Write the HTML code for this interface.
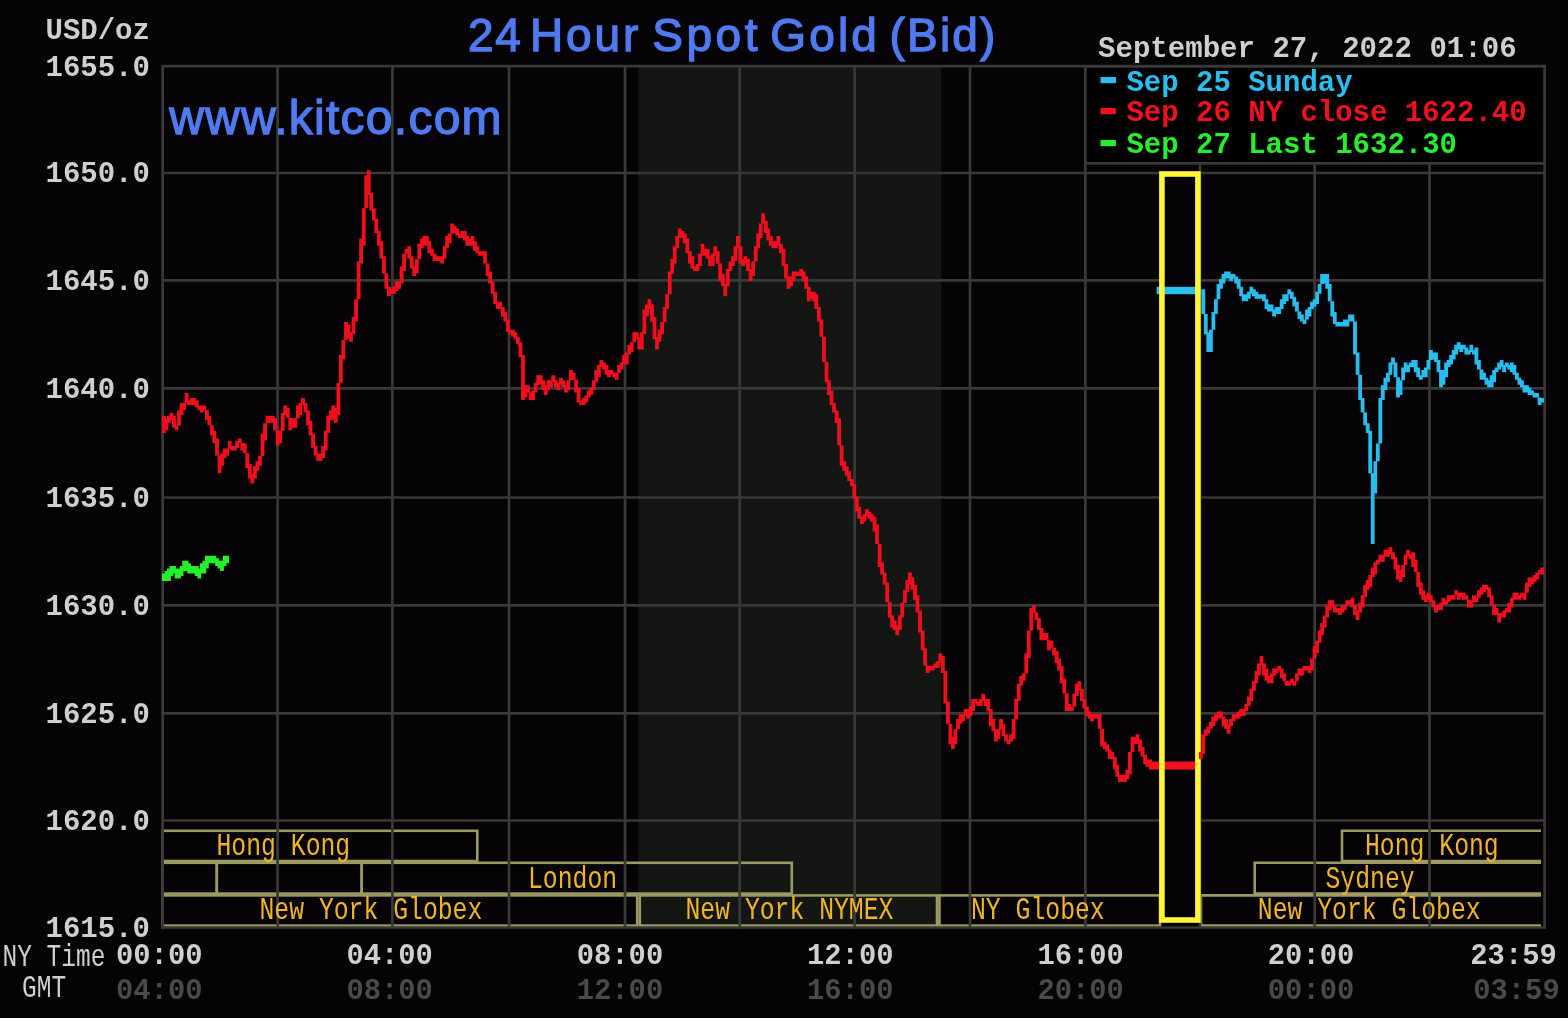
<!DOCTYPE html>
<html><head><meta charset="utf-8"><title>24 Hour Spot Gold (Bid)</title>
<style>html,body{margin:0;padding:0;background:#050305;}svg{display:block}</style></head>
<body>
<svg width="1568" height="1018" viewBox="0 0 1568 1018">
<rect width="1568" height="1018" fill="#050305"/>
<rect x="638.3" y="66.4" width="303.0" height="861.1" fill="#141614"/>
<rect x="162.6" y="830.8" width="314.70000000000005" height="30.200000000000045" fill="none" stroke="#9c9a62" stroke-width="2.6"/>
<path d="M1541 830.8 H1342 V861.0 H1541" fill="none" stroke="#9c9a62" stroke-width="2.6"/>
<rect x="162.6" y="862.8" width="54.20000000000002" height="30.800000000000068" fill="none" stroke="#9c9a62" stroke-width="2.6"/>
<rect x="216.8" y="862.8" width="144.89999999999998" height="30.800000000000068" fill="none" stroke="#9c9a62" stroke-width="2.6"/>
<rect x="361.7" y="862.8" width="430.09999999999997" height="30.800000000000068" fill="none" stroke="#9c9a62" stroke-width="2.6"/>
<path d="M1541 862.8 H1254.7 V893.6 H1541" fill="none" stroke="#9c9a62" stroke-width="2.6"/>
<rect x="162.6" y="895.4" width="474.6" height="30.200000000000045" fill="none" stroke="#9c9a62" stroke-width="2.6"/>
<rect x="639.8" y="895.4" width="297.20000000000005" height="30.200000000000045" fill="none" stroke="#9c9a62" stroke-width="2.6"/>
<rect x="939.4" y="895.4" width="220.60000000000002" height="30.200000000000045" fill="none" stroke="#9c9a62" stroke-width="2.6"/>
<path d="M1541 895.4 H1201 V925.6 H1541" fill="none" stroke="#9c9a62" stroke-width="2.6"/>
<line x1="162.6" y1="66.4" x2="162.6" y2="928.7" stroke="#393938" stroke-width="2.7"/>
<line x1="277.6" y1="66.4" x2="277.6" y2="928.7" stroke="#393938" stroke-width="2.7"/>
<line x1="392.4" y1="66.4" x2="392.4" y2="928.7" stroke="#393938" stroke-width="2.7"/>
<line x1="509.0" y1="66.4" x2="509.0" y2="928.7" stroke="#393938" stroke-width="2.7"/>
<line x1="625.0" y1="66.4" x2="625.0" y2="928.7" stroke="#393938" stroke-width="2.7"/>
<line x1="739.7" y1="66.4" x2="739.7" y2="928.7" stroke="#393938" stroke-width="2.7"/>
<line x1="854.6" y1="66.4" x2="854.6" y2="928.7" stroke="#393938" stroke-width="2.7"/>
<line x1="970.0" y1="66.4" x2="970.0" y2="928.7" stroke="#393938" stroke-width="2.7"/>
<line x1="1085.4" y1="66.4" x2="1085.4" y2="928.7" stroke="#393938" stroke-width="2.7"/>
<line x1="1200.0" y1="66.4" x2="1200.0" y2="928.7" stroke="#393938" stroke-width="2.7"/>
<line x1="1314.7" y1="66.4" x2="1314.7" y2="928.7" stroke="#393938" stroke-width="2.7"/>
<line x1="1429.5" y1="66.4" x2="1429.5" y2="928.7" stroke="#393938" stroke-width="2.7"/>
<line x1="1544.6" y1="66.4" x2="1544.6" y2="928.7" stroke="#393938" stroke-width="2.7"/>
<line x1="161.4" y1="66.2" x2="1545.8" y2="66.2" stroke="#393938" stroke-width="2.7"/>
<line x1="161.4" y1="173.0" x2="1545.8" y2="173.0" stroke="#393938" stroke-width="2.7"/>
<line x1="161.4" y1="280.3" x2="1545.8" y2="280.3" stroke="#393938" stroke-width="2.7"/>
<line x1="161.4" y1="388.3" x2="1545.8" y2="388.3" stroke="#393938" stroke-width="2.7"/>
<line x1="161.4" y1="497.5" x2="1545.8" y2="497.5" stroke="#393938" stroke-width="2.7"/>
<line x1="161.4" y1="605.4" x2="1545.8" y2="605.4" stroke="#393938" stroke-width="2.7"/>
<line x1="161.4" y1="713.3" x2="1545.8" y2="713.3" stroke="#393938" stroke-width="2.7"/>
<line x1="161.4" y1="820.5" x2="1545.8" y2="820.5" stroke="#393938" stroke-width="2.7"/>
<line x1="161.4" y1="927.5" x2="1545.8" y2="927.5" stroke="#393938" stroke-width="2.7"/>
<rect x="1085.4" y="66.4" width="459.1999999999998" height="96.9" fill="#000" stroke="#393938" stroke-width="2.7"/>
<rect x="1161.9" y="174" width="36" height="746" fill="#050305"/>
<rect x="1149" y="761.6" width="52" height="8" fill="#f2101f"/>
<rect x="1156.6" y="286.8" width="44" height="7.4" fill="#28beef"/>
<rect x="1161.9" y="174" width="36" height="746" fill="none" stroke="#fdf735" stroke-width="5.6"/>
<filter id="bl" x="-2%" y="-2%" width="104%" height="104%"><feGaussianBlur stdDeviation="0.55"/></filter>
<g filter="url(#bl)" fill="none" stroke-width="3.8">
<path d="M163.9 415.7V432.9M166.4 418.2V430.3M168.9 415.7V422.7M171.5 413.1V420.2M174.0 415.7V427.8M176.5 425.8V430.3M179.0 410.6V425.8M181.6 403.0V415.1M184.1 403.0V410.1M186.6 392.9V403.0M189.2 400.5V405.0M191.7 398.0V405.0M194.2 398.0V405.0M196.7 400.5V407.6M199.3 405.5V410.1M201.8 405.5V412.6M204.3 405.5V410.1M206.9 410.1V420.2M209.4 415.7V425.3M211.9 425.3V435.4M214.4 430.8V443.0M217.0 438.4V455.6M219.5 455.6V473.3M222.0 453.6V465.7M224.6 448.5V458.1M227.1 448.5V455.6M229.6 440.9V448.5M232.1 446.0V450.6M234.7 446.0V450.6M237.2 440.9V448.0M239.7 438.4V443.0M242.3 443.0V450.6M244.8 443.5V453.1M247.3 453.1V468.3M249.9 463.7V478.4M252.4 473.8V483.4M254.9 466.2V478.4M257.4 461.2V470.8M260.0 456.1V465.7M262.5 433.4V456.1M265.0 423.2V440.4M267.6 415.7V423.2M270.1 415.7V422.7M272.6 415.7V422.7M275.1 418.2V430.3M277.7 430.3V445.5M280.2 430.8V443.0M282.7 413.1V430.8M285.3 405.5V415.1M287.8 408.1V417.7M290.3 417.7V430.3M292.8 418.2V427.8M295.4 418.2V427.8M297.9 405.5V418.2M300.4 403.0V415.1M303.0 398.0V405.0M305.5 403.0V412.6M308.0 410.6V425.3M310.5 420.7V435.4M313.1 433.4V448.0M315.6 446.0V455.6M318.1 453.6V460.7M320.7 453.6V460.7M323.2 446.0V458.1M325.7 430.8V450.6M328.2 415.7V432.9M330.8 410.6V420.2M333.3 405.5V420.2M335.8 408.1V422.7M338.4 382.8V415.1M340.9 355.0V382.8M343.4 339.8V359.5M346.0 322.1V339.8M348.5 324.6V339.3M351.0 332.2V341.8M353.5 317.0V334.2M356.1 299.3V321.6M358.6 261.4V299.3M361.1 238.6V263.4M363.7 208.3V245.7M366.2 175.4V208.3M368.7 170.3V195.1M371.2 193.1V210.3M373.8 208.3V220.4M376.3 218.4V233.1M378.8 231.0V245.7M381.4 241.2V258.4M383.9 256.3V273.5M386.4 273.5V288.7M388.9 286.7V296.3M391.5 289.2V293.8M394.0 286.7V293.8M396.5 281.6V291.2M399.1 281.6V288.7M401.6 266.4V283.6M404.1 253.8V271.0M406.6 248.7V253.8M409.2 246.2V258.4M411.7 256.3V268.5M414.2 266.4V276.1M416.8 258.9V273.5M419.3 243.7V258.9M421.8 238.6V248.2M424.4 236.1V245.7M426.9 236.1V245.7M429.4 241.2V253.3M431.9 248.7V255.8M434.5 253.8V260.9M437.0 256.3V260.9M439.5 256.3V260.9M442.1 256.3V263.4M444.6 246.2V258.4M447.1 236.1V248.2M449.6 233.6V243.2M452.2 223.5V233.6M454.7 226.0V233.1M457.2 228.5V235.6M459.8 233.6V238.1M462.3 231.0V238.1M464.8 231.0V240.6M467.3 236.1V245.7M469.9 238.6V245.7M472.4 236.1V245.7M474.9 241.2V250.8M477.5 246.2V253.3M480.0 251.3V255.8M482.5 251.3V255.8M485.0 251.3V263.4M487.6 263.4V276.1M490.1 271.5V283.6M492.6 281.6V293.8M495.2 291.7V303.9M497.7 301.8V308.9M500.2 301.8V308.9M502.8 306.9V316.5M505.3 312.0V321.6M507.8 319.6V331.7M510.3 329.7V334.2M512.9 329.7V336.8M515.4 332.2V339.3M517.9 337.3V344.3M520.5 342.3V357.0M523.0 355.0V400.0M525.5 385.3V397.4M528.0 385.3V392.4M530.6 392.4V400.0M533.1 390.4V400.0M535.6 382.8V392.4M538.2 375.2V384.8M540.7 375.2V384.8M543.2 380.2V389.9M545.7 385.3V394.9M548.3 380.2V389.9M550.8 380.2V387.3M553.3 375.2V382.3M555.9 380.2V387.3M558.4 382.8V389.9M560.9 377.7V384.8M563.4 380.2V387.3M566.0 385.3V392.4M568.5 380.2V389.9M571.0 370.1V380.2M573.6 372.7V379.7M576.1 379.7V392.4M578.6 387.8V402.5M581.1 400.5V405.0M583.7 398.0V405.0M586.2 395.4V402.5M588.7 390.4V397.4M591.3 387.8V394.9M593.8 380.2V389.9M596.3 370.1V382.3M598.9 365.1V377.2M601.4 360.0V367.1M603.9 362.5V369.6M606.4 365.1V374.7M609.0 370.1V377.2M611.5 370.1V374.7M614.0 372.7V377.2M616.6 372.7V379.7M619.1 365.1V372.7M621.6 362.5V369.6M624.1 355.0V364.6M626.7 352.4V364.6M629.2 344.8V354.5M631.7 342.3V351.9M634.3 332.2V342.3M636.8 332.2V339.3M639.3 337.3V349.4M641.8 332.2V349.4M644.4 309.4V334.2M646.9 304.4V316.5M649.4 299.3V308.9M652.0 304.4V321.6M654.5 317.0V339.3M657.0 337.3V349.4M659.5 329.7V341.8M662.1 322.1V334.2M664.6 306.9V322.1M667.1 294.3V308.9M669.7 271.5V294.3M672.2 258.9V273.5M674.7 246.2V263.4M677.3 236.1V248.2M679.8 228.5V238.1M682.3 231.0V238.1M684.8 233.6V243.2M687.4 238.6V253.3M689.9 251.3V263.4M692.4 256.3V268.5M695.0 266.4V271.0M697.5 263.9V271.0M700.0 253.8V265.9M702.5 243.7V255.8M705.1 248.7V255.8M707.6 248.7V258.4M710.1 256.3V265.9M712.7 253.8V265.9M715.2 246.2V255.8M717.7 251.3V263.4M720.2 263.4V281.1M722.8 274.0V286.2M725.3 284.1V296.3M727.8 269.0V286.2M730.4 261.4V271.0M732.9 256.3V265.9M735.4 246.2V260.9M737.9 236.1V248.2M740.5 246.2V263.4M743.0 258.9V265.9M745.5 256.3V263.4M748.1 258.9V271.0M750.6 269.0V281.1M753.1 261.4V276.1M755.7 246.2V261.4M758.2 233.6V248.2M760.7 223.5V238.1M763.2 213.3V223.5M765.8 220.9V233.1M768.3 228.5V240.6M770.8 236.1V245.7M773.4 241.2V248.2M775.9 241.2V248.2M778.4 236.1V245.7M780.9 243.7V253.3M783.5 248.7V265.9M786.0 263.9V278.6M788.5 276.6V288.7M791.1 276.6V286.2M793.6 271.5V281.1M796.1 271.5V276.1M798.6 271.5V276.1M801.2 269.0V276.1M803.7 271.5V281.1M806.2 276.6V288.7M808.8 286.7V301.3M811.3 291.7V298.8M813.8 291.7V301.3M816.3 294.3V308.9M818.9 306.9V321.6M821.4 319.6V336.8M823.9 336.8V362.0M826.5 362.0V382.3M829.0 380.2V394.9M831.5 390.4V405.0M834.0 403.0V412.6M836.6 410.6V422.7M839.1 418.2V445.5M841.6 445.5V465.7M844.2 461.2V470.8M846.7 466.2V475.8M849.2 471.3V480.9M851.8 478.9V486.0M854.3 483.9V498.6M856.8 496.6V511.3M859.3 506.7V518.8M861.9 516.8V523.9M864.4 514.3V521.4M866.9 509.2V516.3M869.5 511.8V518.8M872.0 514.3V521.4M874.5 516.8V531.5M877.0 524.4V544.1M879.6 544.1V566.9M882.1 562.3V574.5M884.6 572.5V584.6M887.2 582.6V602.3M889.7 602.3V617.5M892.2 615.4V627.6M894.7 620.5V630.1M897.3 625.6V635.2M899.8 615.4V630.1M902.3 602.8V617.5M904.9 590.2V602.8M907.4 580.0V592.2M909.9 572.5V584.6M912.4 577.5V589.7M915.0 585.1V599.8M917.5 595.2V612.4M920.0 610.4V632.6M922.6 630.6V650.3M925.1 648.3V665.5M927.6 665.5V673.1M930.2 666.0V670.6M932.7 666.0V670.6M935.2 663.5V668.0M937.7 661.0V668.0M940.3 653.4V663.0M942.8 655.9V673.1M945.3 671.1V703.5M947.9 701.4V723.7M950.4 723.7V743.9M952.9 736.8V749.0M955.4 729.3V743.9M958.0 719.1V729.3M960.5 714.1V723.7M963.0 714.1V721.2M965.6 709.0V716.1M968.1 709.0V718.6M970.6 706.5V716.1M973.1 698.9V711.0M975.7 698.9V703.5M978.2 701.4V706.0M980.7 698.9V706.0M983.3 693.8V700.9M985.8 698.9V706.0M988.3 698.9V711.0M990.8 709.0V726.2M993.4 719.1V731.3M995.9 729.3V741.4M998.4 729.3V738.9M1001.0 719.1V729.3M1003.5 724.2V736.3M1006.0 734.3V741.4M1008.6 739.4V743.9M1011.1 734.3V741.4M1013.6 719.1V738.9M1016.1 698.9V719.1M1018.7 683.7V700.9M1021.2 676.1V685.8M1023.7 673.6V680.7M1026.3 653.4V673.6M1028.8 630.6V657.9M1031.3 607.9V630.6M1033.8 605.3V612.4M1036.4 612.4V620.0M1038.9 618.0V630.1M1041.4 628.1V640.2M1044.0 633.1V640.2M1046.5 633.1V640.2M1049.0 640.2V650.3M1051.5 640.7V647.8M1054.1 647.8V655.4M1056.6 650.9V663.0M1059.1 658.4V670.6M1061.7 666.0V683.2M1064.2 678.7V693.3M1066.7 693.3V711.0M1069.2 704.0V711.0M1071.8 706.5V711.0M1074.3 693.8V706.5M1076.8 683.7V695.9M1079.4 681.2V690.8M1081.9 688.8V700.9M1084.4 698.9V708.5M1086.9 706.5V716.1M1089.5 711.5V718.6M1092.0 714.1V721.2M1094.5 714.1V718.6M1097.1 714.1V718.6M1099.6 714.1V728.7M1102.1 728.7V746.4M1104.7 741.9V749.0M1107.2 744.4V751.5M1109.7 749.5V759.1M1112.2 752.0V759.1M1114.8 757.1V769.2M1117.3 764.7V776.8M1119.8 774.8V781.9M1122.4 774.8V781.9M1124.9 774.8V781.9M1127.4 769.7V779.3M1129.9 752.0V774.3M1132.5 736.8V752.0M1135.0 736.8V743.9M1137.5 734.3V743.9M1140.1 739.4V751.5M1142.6 747.0V756.6M1145.1 754.5V764.2M1147.6 759.6V766.7M1150.2 759.6V764.2" stroke="#f2101f"/>
<path d="M1200.8 752.0V759.1M1203.3 734.3V754.0M1205.8 729.3V736.3M1208.3 726.7V733.8M1210.9 721.7V728.7M1213.4 716.6V726.2M1215.9 714.1V721.2M1218.5 711.5V718.6M1221.0 711.5V718.6M1223.5 716.6V726.2M1226.0 719.1V728.7M1228.6 724.2V733.8M1231.1 719.1V726.2M1233.6 714.1V721.2M1236.2 714.1V718.6M1238.7 711.5V718.6M1241.2 709.0V716.1M1243.7 709.0V716.1M1246.3 704.0V711.0M1248.8 696.4V706.0M1251.3 688.8V700.9M1253.9 681.2V690.8M1256.4 671.1V683.2M1258.9 663.5V675.6M1261.5 655.9V665.5M1264.0 663.5V675.6M1266.5 668.6V680.7M1269.0 676.1V683.2M1271.6 673.6V683.2M1274.1 668.6V675.6M1276.6 668.6V673.1M1279.2 666.0V670.6M1281.7 668.6V678.2M1284.2 673.6V680.7M1286.7 680.7V685.8M1289.3 681.2V685.8M1291.8 678.7V683.2M1294.3 681.2V685.8M1296.9 673.6V681.2M1299.4 668.6V675.6M1301.9 668.6V675.6M1304.4 666.0V670.6M1307.0 666.0V670.6M1309.5 666.0V673.1M1312.0 658.4V670.6M1314.6 645.8V658.4M1317.1 640.7V652.9M1319.6 630.6V642.8M1322.1 623.0V635.2M1324.7 615.4V627.6M1327.2 605.3V617.5M1329.7 600.3V609.9M1332.3 600.3V607.4M1334.8 605.3V612.4M1337.3 607.9V612.4M1339.8 607.9V614.9M1342.4 605.3V612.4M1344.9 605.3V609.9M1347.4 600.3V605.3M1350.0 600.3V604.8M1352.5 597.7V607.4M1355.0 605.3V614.9M1357.6 610.4V620.0M1360.1 602.8V612.4M1362.6 595.2V607.4M1365.1 585.1V597.2M1367.7 580.0V589.7M1370.2 575.0V587.1M1372.7 567.4V577.0M1375.3 562.3V574.5M1377.8 559.8V564.4M1380.3 554.7V561.8M1382.8 554.7V561.8M1385.4 549.7V556.8M1387.9 549.7V556.8M1390.4 547.2V554.2M1393.0 552.2V559.3M1395.5 557.3V569.4M1398.0 564.9V579.5M1400.5 569.9V582.1M1403.1 564.9V577.0M1405.6 554.7V564.9M1408.1 549.7V556.8M1410.7 554.7V559.3M1413.2 552.2V566.9M1415.7 559.8V571.9M1418.2 571.9V587.1M1420.8 582.6V594.7M1423.3 590.2V599.8M1425.8 595.2V602.3M1428.4 592.7V599.8M1430.9 595.2V602.3M1433.4 600.3V607.4M1436.0 605.3V612.4M1438.5 605.3V609.9M1441.0 602.8V609.9M1443.5 597.7V604.8M1446.1 600.3V604.8M1448.6 595.2V602.3M1451.1 595.2V599.8M1453.7 595.2V599.8M1456.2 590.2V595.2M1458.7 592.7V599.8M1461.2 592.7V597.2M1463.8 592.7V599.8M1466.3 595.2V599.8M1468.8 599.8V607.4M1471.4 600.3V607.4M1473.9 595.2V602.3M1476.4 597.7V602.3M1478.9 590.2V597.7M1481.5 587.6V594.7M1484.0 585.1V592.2M1486.5 585.1V589.7M1489.1 587.6V597.2M1491.6 595.2V604.8M1494.1 604.8V614.9M1496.6 607.9V614.9M1499.2 612.9V622.5M1501.7 612.9V617.5M1504.2 610.4V617.5M1506.8 607.9V612.4M1509.3 602.8V612.4M1511.8 597.7V607.4M1514.4 592.7V599.8M1516.9 592.7V599.8M1519.4 595.2V599.8M1521.9 592.7V597.2M1524.5 592.7V599.8M1527.0 582.6V592.7M1529.5 577.5V587.1M1532.1 577.5V584.6M1534.6 575.0V582.1M1537.1 572.5V579.5M1539.6 569.9V574.5M1542.2 567.4V574.5" stroke="#f2101f"/>
<path d="M1203.3 289.2V314.0M1205.8 314.0V334.2M1208.3 332.2V351.9M1210.9 329.7V351.9M1213.4 312.0V329.7M1215.9 299.3V314.0M1218.5 284.1V299.3M1221.0 279.1V288.7M1223.5 274.0V283.6M1226.0 271.5V278.6M1228.6 271.5V278.6M1231.1 274.0V281.1M1233.6 274.0V278.6M1236.2 276.6V283.6M1238.7 279.1V288.7M1241.2 286.7V296.3M1243.7 294.3V301.3M1246.3 294.3V301.3M1248.8 291.7V298.8M1251.3 286.7V293.8M1253.9 289.2V296.3M1256.4 291.7V298.8M1258.9 294.3V298.8M1261.5 294.3V298.8M1264.0 294.3V301.3M1266.5 299.3V308.9M1269.0 304.4V311.5M1271.6 304.4V311.5M1274.1 309.4V316.5M1276.6 306.9V314.0M1279.2 306.9V314.0M1281.7 299.3V308.9M1284.2 294.3V303.9M1286.7 294.3V301.3M1289.3 289.2V294.3M1291.8 291.7V298.8M1294.3 296.8V306.4M1296.9 301.8V311.5M1299.4 311.5V319.0M1301.9 314.5V321.6M1304.4 319.6V324.1M1307.0 309.4V319.6M1309.5 306.9V316.5M1312.0 301.8V308.9M1314.6 299.3V306.4M1317.1 291.7V303.9M1319.6 284.1V293.8M1322.1 274.0V284.1M1324.7 274.0V283.6M1327.2 274.0V288.7M1329.7 284.1V301.3M1332.3 301.3V316.5M1334.8 312.0V324.1M1337.3 322.1V326.6M1339.8 322.1V326.6M1342.4 322.1V326.6M1344.9 319.6V326.6M1347.4 319.6V326.6M1350.0 314.5V321.6M1352.5 314.5V321.6M1355.0 321.6V354.5M1357.6 352.4V374.7M1360.1 374.7V400.0M1362.6 398.0V412.6M1365.1 412.6V425.3M1367.7 423.2V432.9M1370.2 430.8V473.3M1372.7 473.3V544.1M1375.3 461.2V493.5M1377.8 443.5V461.2M1380.3 398.0V443.5M1382.8 385.3V400.0M1385.4 377.7V389.9M1387.9 372.7V382.3M1390.4 362.5V374.7M1393.0 357.5V364.6M1395.5 362.5V377.2M1398.0 377.2V397.4M1400.5 380.2V394.9M1403.1 367.6V380.2M1405.6 362.5V372.2M1408.1 365.1V372.2M1410.7 362.5V367.1M1413.2 360.0V367.1M1415.7 360.0V372.2M1418.2 367.6V377.2M1420.8 375.2V379.7M1423.3 370.1V377.2M1425.8 367.6V377.2M1428.4 360.0V369.6M1430.9 349.9V360.0M1433.4 352.4V359.5M1436.0 352.4V362.0M1438.5 360.0V372.2M1441.0 370.1V387.3M1443.5 370.1V384.8M1446.1 362.5V377.2M1448.6 360.0V367.1M1451.1 355.0V364.6M1453.7 349.9V359.5M1456.2 344.8V354.5M1458.7 342.3V349.4M1461.2 344.8V351.9M1463.8 344.8V349.4M1466.3 347.4V354.5M1468.8 349.9V354.5M1471.4 344.8V351.9M1473.9 349.9V354.5M1476.4 347.4V364.6M1478.9 360.0V369.6M1481.5 369.6V379.7M1484.0 372.7V379.7M1486.5 377.7V384.8M1489.1 380.2V387.3M1491.6 375.2V387.3M1494.1 370.1V382.3M1496.6 367.6V372.2M1499.2 362.5V369.6M1501.7 360.0V367.1M1504.2 365.1V372.2M1506.8 362.5V367.1M1509.3 365.1V369.6M1511.8 362.5V372.2M1514.4 365.1V374.7M1516.9 372.7V379.7M1519.4 377.7V384.8M1521.9 380.2V387.3M1524.5 385.3V392.4M1527.0 385.3V392.4M1529.5 387.8V394.9M1532.1 390.4V394.9M1534.6 392.9V397.4M1537.1 392.9V397.4M1539.6 397.4V405.0M1542.2 398.0V402.5" stroke="#28beef"/>
<path d="M163.9 573.5V581.1M166.4 570.9V581.1M168.9 568.4V581.1M171.5 565.9V576.0M174.0 565.9V573.5M176.5 568.4V578.5M179.0 568.4V578.5M181.6 565.9V576.0M184.1 560.8V570.9M186.6 560.8V570.9M189.2 563.3V573.5M191.7 565.9V573.5M194.2 565.9V573.5M196.7 565.9V576.0M199.3 568.4V578.5M201.8 563.3V573.5M204.3 560.8V573.5M206.9 555.8V568.4M209.4 555.8V563.3M211.9 555.8V563.3M214.4 555.8V563.3M217.0 558.3V565.9M219.5 560.8V568.4M222.0 560.8V570.9M224.6 555.8V565.9M227.1 555.8V563.3" stroke="#26ee2a"/>
</g>
<text x="45.5" y="75.5" fill="#cfcfcf" font-size="29" font-family="Liberation Mono, DejaVu Sans Mono, monospace" font-weight="bold" textLength="104.4" lengthAdjust="spacingAndGlyphs" xml:space="preserve">1655.0</text>
<text x="45.5" y="182.3" fill="#cfcfcf" font-size="29" font-family="Liberation Mono, DejaVu Sans Mono, monospace" font-weight="bold" textLength="104.4" lengthAdjust="spacingAndGlyphs" xml:space="preserve">1650.0</text>
<text x="45.5" y="289.6" fill="#cfcfcf" font-size="29" font-family="Liberation Mono, DejaVu Sans Mono, monospace" font-weight="bold" textLength="104.4" lengthAdjust="spacingAndGlyphs" xml:space="preserve">1645.0</text>
<text x="45.5" y="397.6" fill="#cfcfcf" font-size="29" font-family="Liberation Mono, DejaVu Sans Mono, monospace" font-weight="bold" textLength="104.4" lengthAdjust="spacingAndGlyphs" xml:space="preserve">1640.0</text>
<text x="45.5" y="506.8" fill="#cfcfcf" font-size="29" font-family="Liberation Mono, DejaVu Sans Mono, monospace" font-weight="bold" textLength="104.4" lengthAdjust="spacingAndGlyphs" xml:space="preserve">1635.0</text>
<text x="45.5" y="614.7" fill="#cfcfcf" font-size="29" font-family="Liberation Mono, DejaVu Sans Mono, monospace" font-weight="bold" textLength="104.4" lengthAdjust="spacingAndGlyphs" xml:space="preserve">1630.0</text>
<text x="45.5" y="722.6" fill="#cfcfcf" font-size="29" font-family="Liberation Mono, DejaVu Sans Mono, monospace" font-weight="bold" textLength="104.4" lengthAdjust="spacingAndGlyphs" xml:space="preserve">1625.0</text>
<text x="45.5" y="829.8" fill="#cfcfcf" font-size="29" font-family="Liberation Mono, DejaVu Sans Mono, monospace" font-weight="bold" textLength="104.4" lengthAdjust="spacingAndGlyphs" xml:space="preserve">1620.0</text>
<text x="45.5" y="936.8" fill="#cfcfcf" font-size="29" font-family="Liberation Mono, DejaVu Sans Mono, monospace" font-weight="bold" textLength="104.4" lengthAdjust="spacingAndGlyphs" xml:space="preserve">1615.0</text>
<text x="45.5" y="39.4" fill="#cfcfcf" font-size="29" font-family="Liberation Mono, DejaVu Sans Mono, monospace" font-weight="bold" textLength="104.4" lengthAdjust="spacingAndGlyphs" xml:space="preserve">USD/oz</text>
<text x="216.5" y="855" fill="#f0b428" font-size="31.5" font-family="Liberation Mono, DejaVu Sans Mono, monospace" textLength="133.7" lengthAdjust="spacingAndGlyphs" xml:space="preserve">Hong Kong</text>
<text x="1365" y="855" fill="#f0b428" font-size="31.5" font-family="Liberation Mono, DejaVu Sans Mono, monospace" textLength="133.7" lengthAdjust="spacingAndGlyphs" xml:space="preserve">Hong Kong</text>
<text x="528" y="887.5" fill="#f0b428" font-size="31.5" font-family="Liberation Mono, DejaVu Sans Mono, monospace" textLength="89.1" lengthAdjust="spacingAndGlyphs" xml:space="preserve">London</text>
<text x="1325.5" y="887.5" fill="#f0b428" font-size="31.5" font-family="Liberation Mono, DejaVu Sans Mono, monospace" textLength="89.1" lengthAdjust="spacingAndGlyphs" xml:space="preserve">Sydney</text>
<text x="259.5" y="919.4" fill="#f0b428" font-size="31.5" font-family="Liberation Mono, DejaVu Sans Mono, monospace" textLength="222.8" lengthAdjust="spacingAndGlyphs" xml:space="preserve">New York Globex</text>
<text x="685.5" y="919.4" fill="#f0b428" font-size="31.5" font-family="Liberation Mono, DejaVu Sans Mono, monospace" textLength="207.9" lengthAdjust="spacingAndGlyphs" xml:space="preserve">New York NYMEX</text>
<text x="971" y="919.4" fill="#f0b428" font-size="31.5" font-family="Liberation Mono, DejaVu Sans Mono, monospace" textLength="133.7" lengthAdjust="spacingAndGlyphs" xml:space="preserve">NY Globex</text>
<text x="1257.8" y="919.4" fill="#f0b428" font-size="31.5" font-family="Liberation Mono, DejaVu Sans Mono, monospace" textLength="222.8" lengthAdjust="spacingAndGlyphs" xml:space="preserve">New York Globex</text>
<text x="116.0" y="964.2" fill="#cfcfcf" font-size="29" font-family="Liberation Mono, DejaVu Sans Mono, monospace" font-weight="bold" textLength="86.5" lengthAdjust="spacingAndGlyphs" xml:space="preserve">00:00</text>
<text x="116.0" y="999.3" fill="#4a4a4a" font-size="29" font-family="Liberation Mono, DejaVu Sans Mono, monospace" font-weight="bold" textLength="86.5" lengthAdjust="spacingAndGlyphs" xml:space="preserve">04:00</text>
<text x="346.4" y="964.2" fill="#cfcfcf" font-size="29" font-family="Liberation Mono, DejaVu Sans Mono, monospace" font-weight="bold" textLength="86.5" lengthAdjust="spacingAndGlyphs" xml:space="preserve">04:00</text>
<text x="346.4" y="999.3" fill="#4a4a4a" font-size="29" font-family="Liberation Mono, DejaVu Sans Mono, monospace" font-weight="bold" textLength="86.5" lengthAdjust="spacingAndGlyphs" xml:space="preserve">08:00</text>
<text x="576.7" y="964.2" fill="#cfcfcf" font-size="29" font-family="Liberation Mono, DejaVu Sans Mono, monospace" font-weight="bold" textLength="86.5" lengthAdjust="spacingAndGlyphs" xml:space="preserve">08:00</text>
<text x="576.7" y="999.3" fill="#4a4a4a" font-size="29" font-family="Liberation Mono, DejaVu Sans Mono, monospace" font-weight="bold" textLength="86.5" lengthAdjust="spacingAndGlyphs" xml:space="preserve">12:00</text>
<text x="807.0" y="964.2" fill="#cfcfcf" font-size="29" font-family="Liberation Mono, DejaVu Sans Mono, monospace" font-weight="bold" textLength="86.5" lengthAdjust="spacingAndGlyphs" xml:space="preserve">12:00</text>
<text x="807.0" y="999.3" fill="#4a4a4a" font-size="29" font-family="Liberation Mono, DejaVu Sans Mono, monospace" font-weight="bold" textLength="86.5" lengthAdjust="spacingAndGlyphs" xml:space="preserve">16:00</text>
<text x="1037.4" y="964.2" fill="#cfcfcf" font-size="29" font-family="Liberation Mono, DejaVu Sans Mono, monospace" font-weight="bold" textLength="86.5" lengthAdjust="spacingAndGlyphs" xml:space="preserve">16:00</text>
<text x="1037.4" y="999.3" fill="#4a4a4a" font-size="29" font-family="Liberation Mono, DejaVu Sans Mono, monospace" font-weight="bold" textLength="86.5" lengthAdjust="spacingAndGlyphs" xml:space="preserve">20:00</text>
<text x="1267.8" y="964.2" fill="#cfcfcf" font-size="29" font-family="Liberation Mono, DejaVu Sans Mono, monospace" font-weight="bold" textLength="86.5" lengthAdjust="spacingAndGlyphs" xml:space="preserve">20:00</text>
<text x="1267.8" y="999.3" fill="#4a4a4a" font-size="29" font-family="Liberation Mono, DejaVu Sans Mono, monospace" font-weight="bold" textLength="86.5" lengthAdjust="spacingAndGlyphs" xml:space="preserve">00:00</text>
<text x="1470.3" y="964.2" fill="#cfcfcf" font-size="29" font-family="Liberation Mono, DejaVu Sans Mono, monospace" font-weight="bold" textLength="86.5" lengthAdjust="spacingAndGlyphs" xml:space="preserve">23:59</text>
<text x="1473.2" y="999.3" fill="#4a4a4a" font-size="29" font-family="Liberation Mono, DejaVu Sans Mono, monospace" font-weight="bold" textLength="86.5" lengthAdjust="spacingAndGlyphs" xml:space="preserve">03:59</text>
<text x="2.5" y="966" fill="#cfcfcf" font-size="31.5" font-family="Liberation Mono, DejaVu Sans Mono, monospace" textLength="102.9" lengthAdjust="spacingAndGlyphs" xml:space="preserve">NY Time</text>
<text x="22" y="997" fill="#cfcfcf" font-size="31.5" font-family="Liberation Mono, DejaVu Sans Mono, monospace" textLength="44.1" lengthAdjust="spacingAndGlyphs" xml:space="preserve">GMT</text>
<text x="1098" y="56.6" fill="#cfcfcf" font-size="29" font-family="Liberation Mono, DejaVu Sans Mono, monospace" font-weight="bold" textLength="418.6" lengthAdjust="spacingAndGlyphs" xml:space="preserve">September 27, 2022 01:06</text>
<text x="1126.4" y="90.8" fill="#28beef" font-size="29" font-family="Liberation Mono, DejaVu Sans Mono, monospace" font-weight="bold" textLength="226.2" lengthAdjust="spacingAndGlyphs" xml:space="preserve">Sep 25 Sunday</text>
<text x="1126.4" y="121.4" fill="#f2101f" font-size="29" font-family="Liberation Mono, DejaVu Sans Mono, monospace" font-weight="bold" textLength="400.2" lengthAdjust="spacingAndGlyphs" xml:space="preserve">Sep 26 NY close 1622.40</text>
<text x="1126.4" y="153" fill="#26ee2a" font-size="29" font-family="Liberation Mono, DejaVu Sans Mono, monospace" font-weight="bold" textLength="330.6" lengthAdjust="spacingAndGlyphs" xml:space="preserve">Sep 27 Last 1632.30</text>
<rect x="1100.5" y="77" width="15.4" height="6.2" fill="#28beef"/>
<rect x="1100.5" y="108" width="15.4" height="6.2" fill="#f2101f"/>
<rect x="1100.5" y="140" width="15.4" height="6.2" fill="#26ee2a"/>
<text y="51" fill="#4f7af0" font-size="46" font-family="Liberation Sans, Arial, sans-serif" stroke="#4f7af0" stroke-width="1.3" xml:space="preserve"><tspan x="467.9" letter-spacing="1.9">24 </tspan><tspan x="530.0" letter-spacing="2.9">Hour </tspan><tspan x="652.3" letter-spacing="3.5">Spot </tspan><tspan x="770.2" letter-spacing="3.2">Gold </tspan><tspan x="889.6" letter-spacing="2.15">(Bid)</tspan></text>
<text x="169.2" y="134.3" fill="#4f7af0" font-size="48" font-family="Liberation Sans, Arial, sans-serif" letter-spacing="1.25" stroke="#4f7af0" stroke-width="1.3">www.kitco.com</text>
</svg>
</body></html>
